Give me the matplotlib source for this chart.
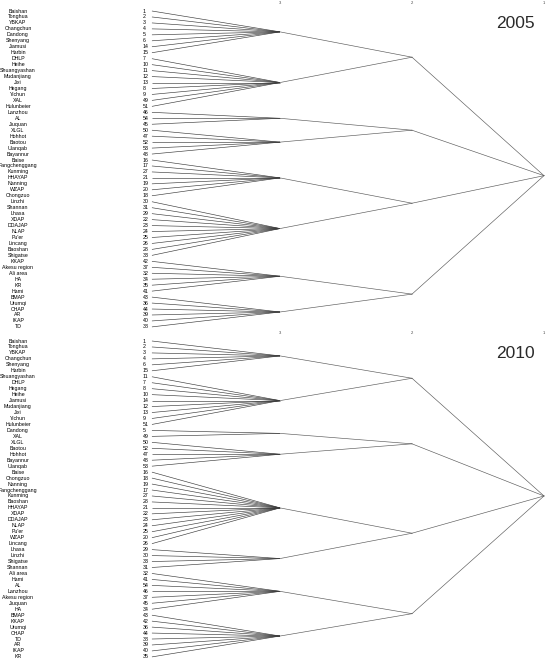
import matplotlib.pyplot as plt

# leaf labels, leaf ids and the size of each level-3 cluster (top to bottom)
names_2005 = ["Baishan", "Tonghua", "YBKAP", "Changchun", "Dandong", "Shenyang", "Jiamusi", "Harbin",
              "DHLP", "Heihe", "Shuangyashan", "Mudanjiang", "Jixi", "Hegang", "Yichun", "XAL", "Hulunbeier",
              "Lanzhou", "AL", "Jiuquan",
              "XLGL", "Hohhot", "Baotou", "Ulanqab", "Bayannur",
              "Baise", "Fangchenggang", "Kunming", "HHAYAP", "Nanning", "WZAP", "Chongzuo",
              "Linzhi", "Shannan", "Lhasa", "XDAP", "DDAJAP", "NLAP", "Pu'er", "Lincang", "Baoshan", "Shigatse",
              "KKAP", "Akesu region", "Ali area", "HA", "KR", "Hami",
              "BMAP", "Urumqi", "CHAP", "AR", "IKAP", "TD"]
ids_2005 = [1, 2, 3, 4, 5, 6, 14, 15,
            7, 10, 11, 12, 13, 8, 9, 49, 51,
            46, 54, 45,
            50, 47, 52, 53, 48,
            16, 17, 27, 21, 19, 20, 18,
            30, 31, 29, 22, 23, 24, 25, 26, 28, 33,
            42, 37, 32, 34, 35, 41,
            43, 36, 44, 39, 40, 38]
sizes_2005 = [8, 9, 3, 5, 7, 10, 6, 6]

names_2010 = ["Baishan", "Tonghua", "YBKAP", "Changchun", "Shenyang", "Harbin",
              "Shuangyashan", "DHLP", "Hegang", "Heihe", "Jiamusi", "Mudanjiang", "Jixi", "Yichun", "Hulunbeier",
              "Dandong", "XAL",
              "XLGL", "Baotou", "Hohhot", "Bayannur", "Ulanqab",
              "Baise", "Chongzuo", "Nanning", "Fangchenggang", "Kunming", "Baoshan", "HHAYAP", "XDAP",
              "DDAJAP", "NLAP", "Pu'er", "WZAP", "Lincang",
              "Lhasa", "Linzhi", "Shigatse", "Shannan",
              "Ali area", "Hami", "AL", "Lanzhou", "Akesu region", "Jiuquan", "HA",
              "BMAP", "KKAP", "Urumqi", "CHAP", "TD", "AR", "IKAP", "KR"]
ids_2010 = [1, 2, 3, 4, 6, 15,
            11, 7, 8, 10, 14, 12, 13, 9, 51,
            5, 49,
            50, 52, 47, 48, 53,
            16, 18, 19, 17, 27, 28, 21, 22, 23, 24, 25, 20, 26,
            29, 30, 33, 31,
            32, 41, 54, 46, 37, 45, 34,
            43, 42, 36, 44, 38, 39, 40, 35]
sizes_2010 = [6, 9, 2, 5, 13, 4, 7, 8]

# level-2 nodes join these level-3 clusters
level2_groups = [[0, 1], [2, 3], [4, 5], [6, 7]]
levels = [3, 2, 1]

FONT = "Liberation Sans"
LW = 0.45
leaf_x = -3.97


def mid(ys):
    return (min(ys) + max(ys)) / 2


def draw_panel(ax, names, ids, sizes, year):
    ax.set_xlim(-5.121, -0.9545)
    ax.set_ylim(53.52, -1.846)
    ax.axis("off")

    for i, (nm, lid) in enumerate(zip(names, ids)):
        ax.text(-4.985, i, nm, ha="center", va="center", fontsize=3.8, family=FONT)
        ax.text(-4.038, i, str(lid), ha="left", va="center", fontsize=3.8, family=FONT)

    # level 3 fans
    node3 = []
    start = 0
    for s in sizes:
        leaves = list(range(start, start + s))
        y3 = mid(leaves)
        for y in leaves:
            ax.plot([leaf_x, -3], [y, y3], color="#3c3c3c", lw=LW, solid_capstyle="butt")
        node3.append(y3)
        start += s

    # level 2
    node2 = []
    for grp in level2_groups:
        y2 = mid([node3[g] for g in grp])
        for g in grp:
            ax.plot([-3, -2], [node3[g], y2], color="#5a5a5a", lw=LW)
        node2.append(y2)

    # root
    y1 = mid(node2)
    for y2 in node2:
        ax.plot([-2, -1], [y2, y1], color="#5a5a5a", lw=LW)

    for lv in levels:
        ax.text(-lv, -1.3, str(lv), ha="center", va="center", fontsize=3, color="#444444", family=FONT)

    ax.text(0.938, 0.93, year, transform=ax.transAxes, ha="center", va="center",
            fontsize=12.5, family=FONT, color="#2a2a2a")


fig = plt.figure(figsize=(5.5, 6.61), dpi=100)
h = 330 / 661
ax1 = fig.add_axes([0, 1 - h, 1, h])
ax2 = fig.add_axes([0, 1 - 2 * h, 1, h])

draw_panel(ax1, names_2005, ids_2005, sizes_2005, "2005")
draw_panel(ax2, names_2010, ids_2010, sizes_2010, "2010")

fig.savefig("out.png", dpi=100)
